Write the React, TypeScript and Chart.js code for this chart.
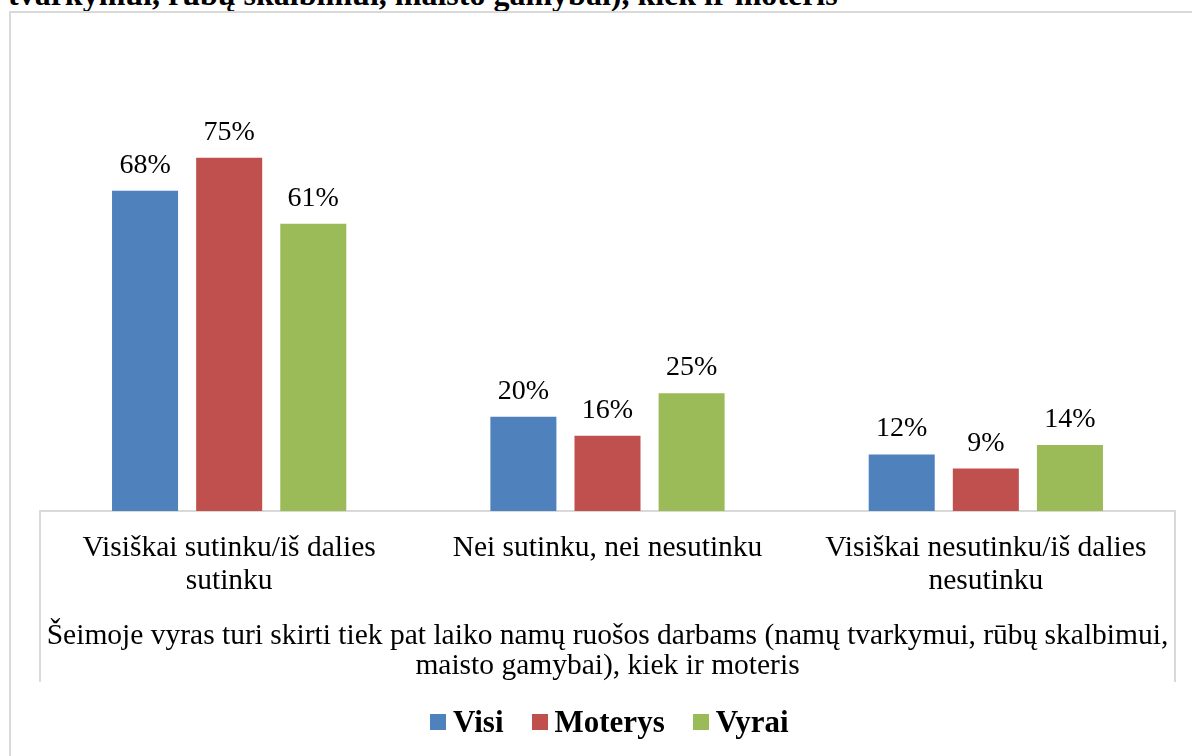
import React, { useEffect, useRef } from "react";
import { Chart, registerables } from "chart.js";

Chart.register(...registerables);

const categories: string[][] = [
  ["Visiškai sutinku/iš dalies", "sutinku"],
  ["Nei sutinku, nei nesutinku"],
  ["Visiškai nesutinku/iš dalies", "nesutinku"],
];
const seriesNames = ["Visi", "Moterys", "Vyrai"];
const visi = [68, 20, 12];
const moterys = [75, 16, 9];
const vyrai = [61, 25, 14];
const seriesColors = ["#4F81BD", "#C0504D", "#9BBB59"];
const axisTitle = [
  "Šeimoje vyras turi skirti tiek pat laiko namų ruošos darbams (namų tvarkymui, rūbų skalbimui,",
  "maisto gamybai), kiek ir moteris",
];
const topTitle = "tvarkymui, rūbų skalbimui, maisto gamybai), kiek ir moteris";

const SERIF = '"Liberation Serif", "Times New Roman", serif';

const dataLabels = {
  id: "dataLabels",
  afterDatasetsDraw(chart: any) {
    const ctx = chart.ctx;
    ctx.save();
    ctx.font = `28px ${SERIF}`;
    ctx.fillStyle = "#000";
    ctx.textAlign = "center";
    ctx.textBaseline = "alphabetic";
    chart.data.datasets.forEach((ds: any, i: number) => {
      const meta = chart.getDatasetMeta(i);
      meta.data.forEach((bar: any, j: number) => {
        ctx.fillText(`${ds.data[j]}%`, bar.x, bar.y - 18);
      });
    });
    ctx.restore();
  },
};

const axisBox = {
  id: "axisBox",
  afterDraw(chart: any) {
    const xs = chart.scales.x;
    const ctx = chart.ctx;
    ctx.save();
    ctx.strokeStyle = "#d9d9d9";
    ctx.lineWidth = 2;
    ctx.beginPath();
    ctx.moveTo(xs.left, xs.top);
    ctx.lineTo(xs.left, xs.bottom + 1);
    ctx.moveTo(xs.right, xs.top);
    ctx.lineTo(xs.right, xs.bottom + 1);
    ctx.stroke();
    ctx.restore();
  },
};

export default function App() {
  const canvasRef = useRef<HTMLCanvasElement | null>(null);

  useEffect(() => {
    if (!canvasRef.current) return;
    const seriesData = [visi, moterys, vyrai];
    const chart = new Chart(canvasRef.current, {
      type: "bar",
      data: {
        labels: categories,
        datasets: seriesNames.map((name, i) => ({
          label: name,
          data: seriesData[i],
          backgroundColor: seriesColors[i],
          borderWidth: 0,
          categoryPercentage: 0.667,
          barPercentage: 0.785,
        })),
      },
      options: {
        responsive: false,
        animation: false,
        devicePixelRatio: 1,
        layout: { padding: { left: 40, right: 17, top: 40, bottom: 75 } },
        plugins: {
          legend: { display: false },
          tooltip: { enabled: false },
        },
        scales: {
          y: {
            display: false,
            min: 0,
            max: 100,
          },
          x: {
            grid: { display: false },
            border: { display: true, color: "#d9d9d9", width: 2 },
            afterFit: (scale: any) => {
              scale.height = 170;
            },
            ticks: {
              color: "#000",
              font: { family: SERIF, size: 29.5, lineHeight: 33 / 29.5 },
              padding: 13,
              maxRotation: 0,
              minRotation: 0,
              autoSkip: false,
            },
            title: {
              display: true,
              text: axisTitle,
              color: "#000",
              font: { family: SERIF, size: 29.5, lineHeight: 30 / 29.5 },
              padding: { top: 19, bottom: 0 },
            },
          },
        },
      },
      plugins: [dataLabels, axisBox],
    });
    return () => chart.destroy();
  }, []);

  return (
    <div
      style={{
        position: "fixed",
        left: 0,
        top: 0,
        width: 1192,
        height: 756,
        overflow: "hidden",
        background: "#fff",
      }}
    >
      <div
        style={{
          position: "absolute",
          left: 8,
          top: -22,
          font: `bold 32px ${SERIF}`,
          lineHeight: "32px",
          whiteSpace: "nowrap",
          color: "#000",
        }}
      >
        {topTitle}
      </div>
      <div
        style={{
          position: "absolute",
          left: 9,
          top: 11,
          width: 1400,
          height: 1000,
          borderLeft: "2px solid #d9d9d9",
          borderTop: "2px solid #d9d9d9",
        }}
      />
      <canvas
        ref={canvasRef}
        width={1192}
        height={756}
        style={{ position: "absolute", left: 0, top: 0, width: 1192, height: 756 }}
      />
      <div
        style={{
          position: "absolute",
          left: 430,
          top: 706,
          display: "flex",
          alignItems: "center",
          font: `bold 31px ${SERIF}`,
          lineHeight: "31px",
          color: "#000",
          whiteSpace: "nowrap",
        }}
      >
        {seriesNames.map((name, i) => (
          <div
            key={name}
            style={{ display: "flex", alignItems: "center", marginRight: i < seriesNames.length - 1 ? 28 : 0 }}
          >
            <span
              style={{
                display: "inline-block",
                width: 16,
                height: 16,
                background: seriesColors[i],
                marginRight: 7,
              }}
            />
            <span>{name}</span>
          </div>
        ))}
      </div>
    </div>
  );
}
